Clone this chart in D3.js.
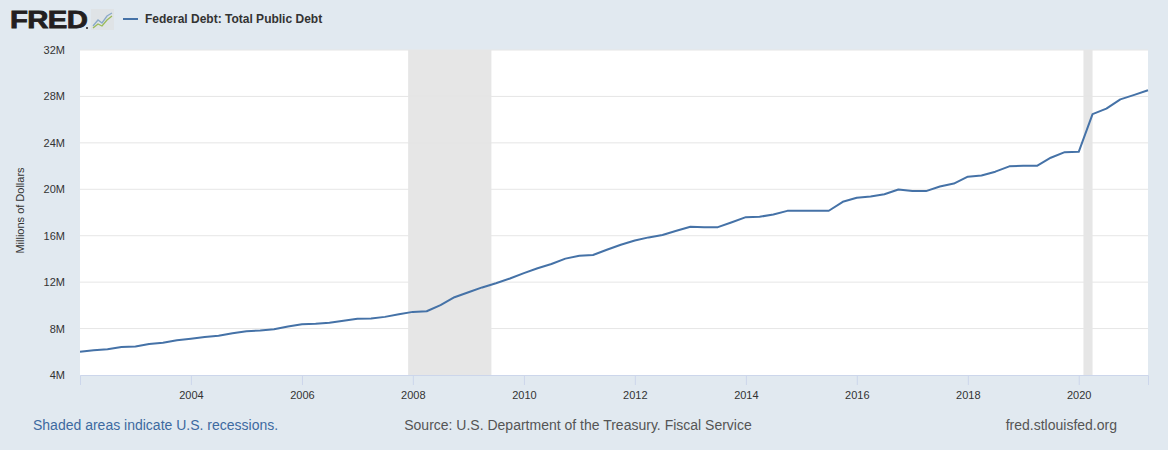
<!DOCTYPE html>
<html>
<head>
<meta charset="utf-8">
<script src="https://cdn.jsdelivr.net/npm/d3@7"></script>
<style>
  body { margin: 0; background: #e1e9f0; font-family: "Liberation Sans", Arial, sans-serif; }
  svg { display: block; }
</style>
</head>
<body>
<div id="chart"></div>
<script>
// quarterly values, millions of dollars
const dates = [
  "2002-01-01","2002-04-01","2002-07-01","2002-10-01",
  "2003-01-01","2003-04-01","2003-07-01","2003-10-01",
  "2004-01-01","2004-04-01","2004-07-01","2004-10-01",
  "2005-01-01","2005-04-01","2005-07-01","2005-10-01",
  "2006-01-01","2006-04-01","2006-07-01","2006-10-01",
  "2007-01-01","2007-04-01","2007-07-01","2007-10-01",
  "2008-01-01","2008-04-01","2008-07-01","2008-10-01",
  "2009-01-01","2009-04-01","2009-07-01","2009-10-01",
  "2010-01-01","2010-04-01","2010-07-01","2010-10-01",
  "2011-01-01","2011-04-01","2011-07-01","2011-10-01",
  "2012-01-01","2012-04-01","2012-07-01","2012-10-01",
  "2013-01-01","2013-04-01","2013-07-01","2013-10-01",
  "2014-01-01","2014-04-01","2014-07-01","2014-10-01",
  "2015-01-01","2015-04-01","2015-07-01","2015-10-01",
  "2016-01-01","2016-04-01","2016-07-01","2016-10-01",
  "2017-01-01","2017-04-01","2017-07-01","2017-10-01",
  "2018-01-01","2018-04-01","2018-07-01","2018-10-01",
  "2019-01-01","2019-04-01","2019-07-01","2019-10-01",
  "2020-01-01","2020-04-01","2020-07-01","2020-10-01",
  "2021-01-01","2021-04-01"
];
const debt = [
  6006032, 6126469, 6228236, 6405707,
  6460776, 6670121, 6783231, 6998006,
  7131068, 7274335, 7379053, 7596146,
  7776939, 7836496, 7932710, 8170424,
  8371156, 8420042, 8506974, 8680224,
  8849665, 8867675, 9007653, 9229172,
  9437594, 9492006, 10024725, 10699805,
  11126941, 11545275, 11909829, 12311350,
  12773123, 13201790, 13561623, 14025215,
  14270114, 14342895, 14790340, 15222940,
  15582079, 15855500, 16066241, 16432730,
  16771600, 16738184, 16738184, 17159000,
  17601227, 17632606, 17824071, 18141444,
  18152056, 18152560, 18150618, 18922179,
  19264939, 19381591, 19573445, 19976827,
  19846420, 19844554, 20244900, 20492874,
  21089643, 21195070, 21516058, 21974096,
  22027880, 22023283, 22719402, 23201380,
  23223813, 26477214, 26945391, 27747798,
  28132570, 28529436
];
const recessions = [
  ["2007-12-01", "2009-06-01"],
  ["2020-02-01", "2020-04-01"]
];
const yTicks = [4e6, 8e6, 12e6, 16e6, 20e6, 24e6, 28e6, 32e6];
const xTickYears = [2004, 2006, 2008, 2010, 2012, 2014, 2016, 2018, 2020];

const W = 1168, H = 450;
var margin = { top: 50, right: 20, bottom: 75, left: 80 },
  width = W - margin.left - margin.right,
  height = H - margin.top - margin.bottom;

const parse = d3.timeParse("%Y-%m-%d");
const data = dates.map((d, i) => ({ date: parse(d), value: debt[i] }));

const svg = d3.select("#chart").append("svg")
  .attr("width", W)
  .attr("height", H);

svg.append("rect").attr("width", W).attr("height", H).attr("fill", "#e1e9f0");

// header: logo + legend
const logo = svg.append("g").attr("transform", "translate(10,0)");
logo.append("text")
  .text("FRED")
  .attr("transform", "translate(0,28) scale(1.22,1)")
  .attr("font-size", 24)
  .attr("font-weight", "bold")
  .attr("letter-spacing", -0.5)
  .attr("fill", "#231f20")
  .attr("stroke", "#231f20")
  .attr("stroke-width", 0.8)
  .style("font-family", "'Liberation Sans', Arial, sans-serif");
logo.append("circle").attr("cx", 77).attr("cy", 28).attr("r", 1).attr("fill", "#231f20");
const icon = logo.append("g").attr("transform", "translate(81,9)");
icon.append("rect").attr("width", 23).attr("height", 21).attr("fill", "#dfe3e6");
icon.append("polyline")
  .attr("points", "2,17 7,11 11,14 16,7 21,4")
  .attr("fill", "none").attr("stroke", "#8aa9c9").attr("stroke-width", 1.3);
icon.append("polyline")
  .attr("points", "2,19 7,15 11,17 16,11 21,7")
  .attr("fill", "none").attr("stroke", "#9bbb59").attr("stroke-width", 1.3);

svg.append("line")
  .attr("x1", 123).attr("x2", 138).attr("y1", 19).attr("y2", 19)
  .attr("stroke", "#4572a7").attr("stroke-width", 2);
svg.append("text")
  .text("Federal Debt: Total Public Debt")
  .attr("x", 145).attr("y", 23)
  .attr("font-size", 12).attr("font-weight", "bold").attr("fill", "#333");

const g = svg.append("g")
  .attr("transform", `translate(${margin.left},${margin.top})`);

g.append("rect").attr("width", width).attr("height", height).attr("fill", "#fff");

var x = d3.scaleTime()
  .domain(d3.extent(data, (d) => d.date))
  .range([0, width]);
var y = d3.scaleLinear().domain([4e6, 32e6]).range([height, 0]);

// recession shading
g.selectAll(".recession")
  .data(recessions)
  .enter()
  .append("rect")
  .attr("class", "recession")
  .attr("x", (d) => x(parse(d[0])))
  .attr("width", (d) => x(parse(d[1])) - x(parse(d[0])))
  .attr("y", 0)
  .attr("height", height)
  .attr("fill", "#e6e6e6");

// grid lines
g.selectAll(".grid")
  .data(yTicks.slice(1))
  .enter()
  .append("line")
  .attr("class", "grid")
  .attr("x1", 0).attr("x2", width)
  .attr("y1", (d) => y(d)).attr("y2", (d) => y(d))
  .attr("stroke", "#e6e6e6").attr("stroke-width", 1);

// y axis labels
const yAxis = g.append("g")
  .call(d3.axisLeft(y).tickValues(yTicks).tickSize(0).tickPadding(15)
    .tickFormat((d) => d / 1e6 + "M"));
yAxis.select(".domain").remove();
yAxis.selectAll("text")
  .attr("font-size", 11).attr("fill", "#333")
  .style("font-family", "'Liberation Sans', Arial, sans-serif");

// x axis
const xAxis = g.append("g")
  .attr("transform", `translate(0,${height})`)
  .call(d3.axisBottom(x)
    .tickValues(xTickYears.map((yr) => new Date(yr, 0, 1)))
    .tickSize(10).tickPadding(6)
    .tickFormat(d3.timeFormat("%Y")));
xAxis.select(".domain").attr("stroke", "#ccd6eb");
xAxis.selectAll(".tick line").attr("stroke", "#ccd6eb");
xAxis.selectAll("text")
  .attr("font-size", 11).attr("fill", "#333")
  .style("font-family", "'Liberation Sans', Arial, sans-serif");

// line
var line = d3.line()
  .x((d) => x(d.date))
  .y((d) => y(d.value));
g.append("path")
  .datum(data)
  .attr("d", line)
  .attr("fill", "none")
  .attr("stroke", "#4572a7")
  .attr("stroke-width", 2)
  .attr("stroke-linejoin", "round");

// y title
svg.append("text")
  .text("Millions of Dollars")
  .attr("transform", `translate(24,${margin.top + height / 2 - 2}) rotate(-90)`)
  .attr("text-anchor", "middle")
  .attr("font-size", 11)
  .attr("fill", "#333");

// footer
svg.append("text")
  .text("Shaded areas indicate U.S. recessions.")
  .attr("x", 33).attr("y", 430)
  .attr("font-size", 14).attr("fill", "#3d6aa0");
svg.append("text")
  .text("Source: U.S. Department of the Treasury. Fiscal Service")
  .attr("x", 578).attr("y", 430)
  .attr("text-anchor", "middle")
  .attr("font-size", 14).attr("fill", "#555");
svg.append("text")
  .text("fred.stlouisfed.org")
  .attr("x", 1117).attr("y", 430)
  .attr("text-anchor", "end")
  .attr("font-size", 14).attr("fill", "#555");
</script>
</body>
</html>
